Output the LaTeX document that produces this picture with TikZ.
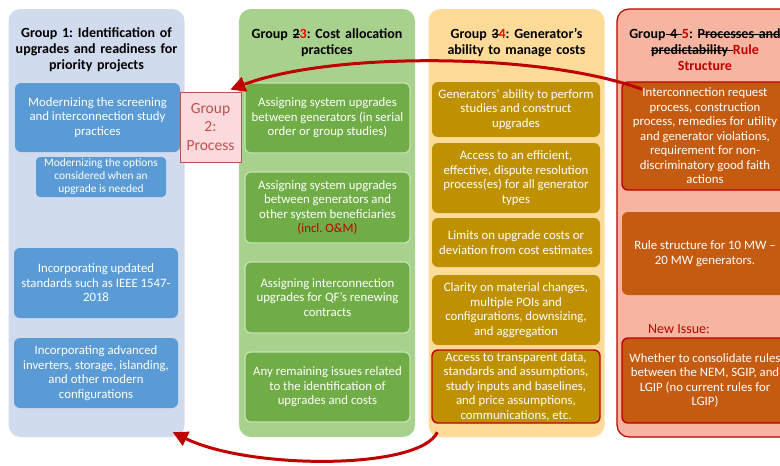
\documentclass[tikz,border=0pt]{standalone}
\usepackage{fontspec}
\setmainfont{Carlito}
\usetikzlibrary{arrows.meta,positioning}
\frenchspacing

\newcommand{\strk}[1]{\leavevmode\setbox0\hbox{#1}\rlap{\rule[0.27em]{\wd0}{0.07em}}\box0}

\definecolor{bluebg}{HTML}{D0DBEE}
\definecolor{bluebox}{HTML}{5B9BD5}
\definecolor{greenbg}{HTML}{A9D18E}
\definecolor{greenbox}{HTML}{70AD47}
\definecolor{greenline}{HTML}{C5E0B4}
\definecolor{goldbg}{HTML}{FFDB9A}
\definecolor{goldbox}{HTML}{BF9000}
\definecolor{rustbg}{HTML}{F6B5A0}
\definecolor{rustbox}{HTML}{C55A11}
\definecolor{darkred}{HTML}{C00000}
\definecolor{pinkbg}{HTML}{FADADD}
\definecolor{pinkline}{HTML}{C0504D}

\begin{document}
\begin{tikzpicture}[x=1pt,y=-1pt,
    column/.style={rounded corners=12pt, minimum width=176pt, minimum height=428pt, inner sep=0pt},
    header/.style={font=\fontsize{14}{16}\selectfont\bfseries, align=center, text width=176pt},
    item/.style={rounded corners=6pt, text=white, align=center, inner sep=0pt,
                 font=\fontsize{12.8}{14.5}\selectfont},
    redarrow/.style={draw=darkred, line width=3pt, -{Triangle[length=15pt,width=15pt]}}]

    % frame
    \clip (0,0) rectangle (780,466);
    \fill[white] (0,0) rectangle (780,466);

    % draw columns
    \node[column, fill=bluebg] (col1) at (96.5,223) {};
    \node[column, fill=greenbg] (col2) at (327,223) {};
    \node[column, fill=goldbg] (col3) at (516.5,223) {};
    \node[column, fill=rustbg, draw=darkred, line width=1.2pt] (col4) at (705,223) {};

    % draw headers
    \node[header] (head1) at (96.5,50) {Group 1: Identification of\\upgrades and readiness for\\priority projects};
    \node[header] (head2) at (327,42.5) {Group \strk{2}{\color{red}3}: Cost allocation\\practices};
    \node[header] (head3) at (516.5,42.5) {Group \strk{3}{\color{red}4}: Generator’s\\ability to manage costs};
    \node[header] (head4) at (705,50) {Group\strk{\ 4\ }{\color{darkred}5}: \strk{Processes and}\\\strk{predictability\ }{\color{darkred}Rule}\\{\color{darkred}Structure}};

    % group 1 items
    \node[item, fill=bluebox, minimum width=165pt, minimum height=69pt] (upg1) at (97.5,117.5) {Modernizing the screening\\and interconnection study\\practices};
    \node[item, fill=bluebox, minimum width=130pt, minimum height=40pt, rounded corners=4pt,
          font=\fontsize{11.4}{13}\selectfont] (upg2) at (101,177) {Modernizing the options\\considered when an\\upgrade is needed};
    \node[item, fill=bluebox, minimum width=164pt, minimum height=70pt] (upg3) at (96,283) {Incorporating updated\\standards such as IEEE 1547-\\2018};
    \node[item, fill=bluebox, minimum width=164pt, minimum height=70pt] (upg4) at (96,373) {Incorporating advanced\\inverters, storage, islanding,\\and other modern\\configurations};

    % group 3 items
    \node[item, fill=greenbox, draw=greenline, line width=1.2pt, minimum width=165pt, minimum height=70pt] (cost1) at (327.5,118) {Assigning system upgrades\\between generators (in serial\\order or group studies)};
    \node[item, fill=greenbox, draw=greenline, line width=1.2pt, minimum width=165pt, minimum height=71pt] (cost2) at (327.5,207.5) {Assigning system upgrades\\between generators and\\other system beneficiaries\\{\color{darkred}(incl. O\&M)}};
    \node[item, fill=greenbox, draw=greenline, line width=1.2pt, minimum width=165pt, minimum height=71pt] (cost3) at (327.5,297.5) {Assigning interconnection\\upgrades for QF’s renewing\\contracts};
    \node[item, fill=greenbox, draw=greenline, line width=1.2pt, minimum width=165pt, minimum height=70pt] (cost4) at (327.5,387) {Any remaining issues related\\to the identification of\\upgrades and costs};

    % group 4 items
    \node[item, fill=goldbox, minimum width=168pt, minimum height=55pt] (gen1) at (516,109.5) {Generators’ ability to perform\\studies and construct\\upgrades};
    \node[item, fill=goldbox, minimum width=168pt, minimum height=70pt] (gen2) at (516,178) {Access to an efficient,\\effective, dispute resolution\\process(es) for all generator\\types};
    \node[item, fill=goldbox, minimum width=168pt, minimum height=49pt] (gen3) at (516,242.5) {Limits on upgrade costs or\\deviation from cost estimates};
    \node[item, fill=goldbox, minimum width=168pt, minimum height=70pt] (gen4) at (516,310) {Clarity on material changes,\\multiple POIs and\\configurations, downsizing,\\and aggregation};
    \node[item, fill=goldbox, draw=darkred, line width=1.4pt, minimum width=168pt, minimum height=73pt] (gen5) at (516,386.5) {Access to transparent data,\\standards and assumptions,\\study inputs and baselines,\\and price assumptions,\\communications, etc.};

    % group 5 items
    \node[item, fill=rustbox, draw=darkred, line width=1.4pt, minimum width=166pt, minimum height=108pt] (rule1) at (705,136) {Interconnection request\\process, construction\\process, remedies for utility\\and generator violations,\\requirement for non-\\discriminatory good faith\\actions};
    \node[item, fill=rustbox, minimum width=166pt, minimum height=83pt] (rule2) at (705,253.5) {Rule structure for 10 MW –\\20 MW generators.};
    \node[text=darkred, font=\fontsize{14}{16}\selectfont] (newissue) at (679,329) {New Issue:};
    \node[item, fill=rustbox, draw=darkred, line width=1.4pt, minimum width=166pt, minimum height=85pt] (rule3) at (705,380.5) {Whether to consolidate rules\\between the NEM, SGIP, and\\LGIP (no current rules for\\LGIP)};

    % process label
    \node[fill=pinkbg, draw=pinkline, line width=0.8pt, minimum width=61pt, minimum height=70pt, inner sep=0pt,
          align=center, text=pinkline, font=\fontsize{15.5}{18.5}\selectfont] (proc) at (210.5,127) {Group\\2:\\Process};

    % draw arrows
    \draw[redarrow] ([xshift=21pt,yshift=-8pt]rule1.north west) .. controls (540,52) and (330,52) .. ([xshift=-11pt,yshift=2pt]proc.north east);
    \draw[redarrow] ([xshift=9pt,yshift=5pt]col3.south west) .. controls (420,470) and (250,470) .. ([xshift=-12pt,yshift=5pt]col1.south east);

\end{tikzpicture}
\end{document}
